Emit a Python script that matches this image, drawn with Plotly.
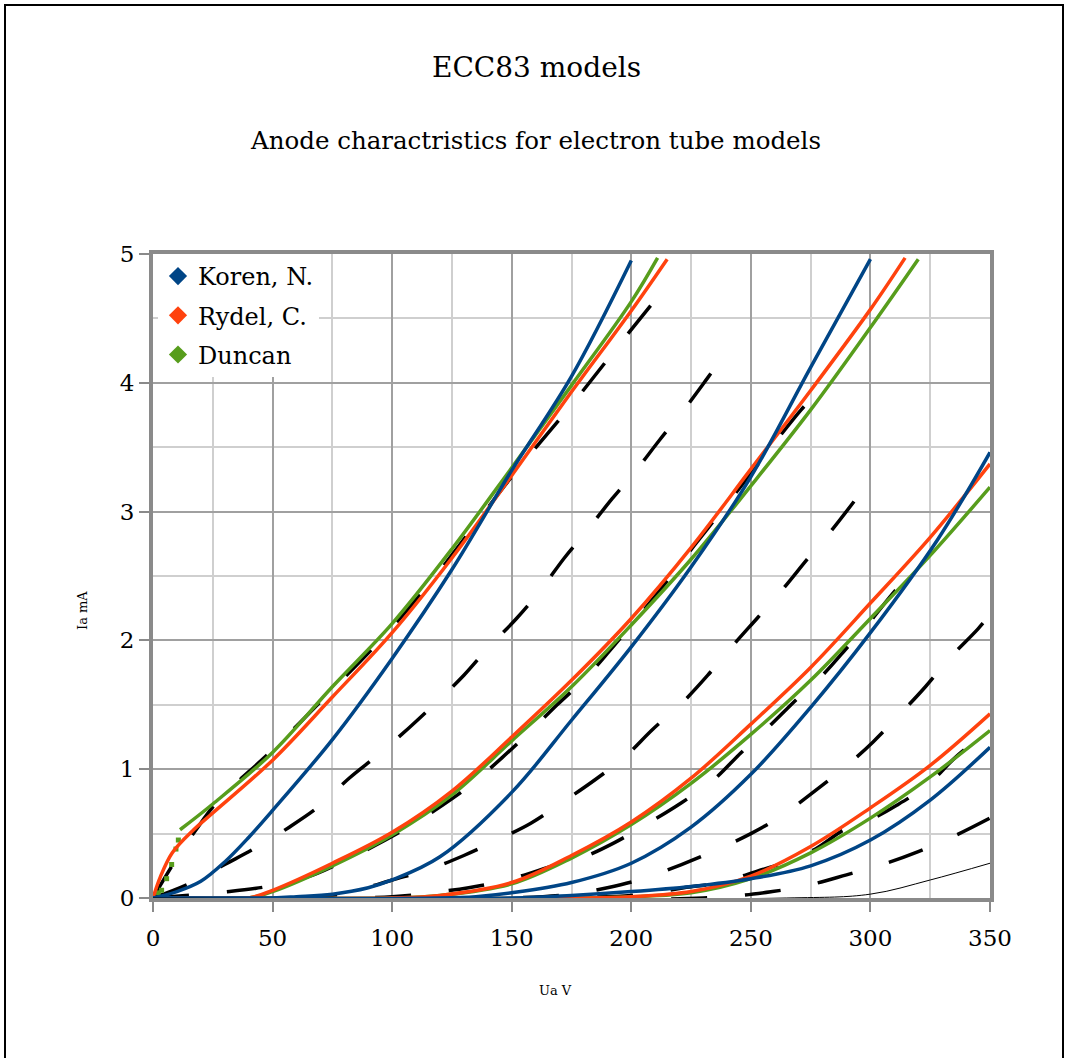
import plotly.graph_objects as go

# ---------------- data ----------------
# Koren, N. model (blue)
koren_g0_ua = [0, 10, 20, 30, 40, 50, 75, 100, 125, 150, 175, 200]
koren_g0_ia = [0, 0.05, 0.13, 0.28, 0.47, 0.68, 1.23, 1.86, 2.55, 3.32, 4.05, 4.95]
koren_g1_ua = [0, 50, 60, 75, 90, 100, 120, 150, 175, 200, 225, 250, 275, 300]
koren_g1_ia = [0, 0, 0.01, 0.03, 0.08, 0.14, 0.32, 0.82, 1.38, 1.95, 2.57, 3.27, 4.12, 4.96]
koren_g2_ua = [0, 120, 135, 150, 175, 200, 225, 250, 275, 300, 328, 350]
koren_g2_ia = [0, 0, 0.01, 0.04, 0.12, 0.27, 0.55, 0.96, 1.48, 2.06, 2.78, 3.46]
koren_g3_ua = [0, 150, 175, 200, 225, 250, 275, 300, 325, 350]
koren_g3_ia = [0, 0, 0.02, 0.05, 0.09, 0.15, 0.25, 0.45, 0.76, 1.17]

# Rydel, C. model (orange)
rydel_g0_ua = [0, 3, 8, 17, 25, 50, 75, 100, 125, 150, 175, 200, 215]
rydel_g0_ia = [0, 0.16, 0.35, 0.53, 0.66, 1.07, 1.56, 2.06, 2.64, 3.28, 3.93, 4.56, 4.96]
rydel_g1_ua = [0, 40, 50, 75, 100, 125, 150, 175, 200, 225, 250, 275, 300, 314.5]
rydel_g1_ia = [0, 0, 0.06, 0.27, 0.51, 0.83, 1.25, 1.69, 2.17, 2.72, 3.33, 3.94, 4.57, 4.97]
rydel_g2_ua = [0, 100, 120, 150, 175, 200, 225, 250, 275, 300, 325, 350]
rydel_g2_ia = [0, 0, 0.02, 0.12, 0.33, 0.59, 0.93, 1.35, 1.79, 2.29, 2.80, 3.37]
rydel_g3_ua = [0, 180, 200, 225, 250, 275, 300, 325, 350]
rydel_g3_ia = [0, 0, 0.01, 0.05, 0.17, 0.40, 0.70, 1.03, 1.43]

# Duncan model (green); the first points near the origin show as separate dots
duncan_g0_dots_ua = [0, 2.2, 3.6, 5.7, 7.8, 9.6, 10.6]
duncan_g0_dots_ia = [0, 0.04, 0.06, 0.15, 0.26, 0.38, 0.45]
duncan_g0_ua = [11.3, 25, 50, 75, 100, 125, 150, 175, 200, 211]
duncan_g0_ia = [0.53, 0.73, 1.13, 1.64, 2.13, 2.71, 3.34, 3.98, 4.63, 4.97]
duncan_g1_ua = [0, 40, 50, 75, 100, 125, 150, 175, 200, 225, 250, 275, 300, 320]
duncan_g1_ia = [0, 0, 0.05, 0.25, 0.49, 0.80, 1.22, 1.64, 2.12, 2.63, 3.20, 3.79, 4.43, 4.96]
duncan_g2_ua = [0, 100, 120, 150, 175, 200, 225, 250, 275, 300, 325, 350]
duncan_g2_ia = [0, 0, 0.02, 0.11, 0.31, 0.57, 0.89, 1.27, 1.69, 2.17, 2.66, 3.19]
duncan_g3_ua = [0, 180, 200, 225, 250, 275, 300, 325, 350]
duncan_g3_ia = [0, 0, 0.01, 0.04, 0.15, 0.35, 0.62, 0.94, 1.30]

# measured data (black dashed), Ug = 0 ... -3.5 V
meas_0_ua = [0, 8, 18, 27, 50, 73, 95, 116, 150, 176, 196, 216]
meas_0_ia = [0, 0.25, 0.53, 0.75, 1.15, 1.58, 2.0, 2.45, 3.27, 3.85, 4.32, 4.78]
meas_05_ua = [0, 15, 30, 43, 57, 70, 82, 94, 107, 118, 130, 140, 152, 162, 172, 180, 192, 202, 212, 222, 232, 241]
meas_05_ia = [0, 0.11, 0.26, 0.39, 0.55, 0.72, 0.93, 1.11, 1.32, 1.51, 1.73, 1.94, 2.17, 2.39, 2.64, 2.82, 3.1, 3.32, 3.56, 3.79, 4.04, 4.27]
meas_1_ua = [0, 32, 48, 64, 78, 103, 121, 133, 146, 157, 169, 181, 191, 200, 212, 221, 232, 241, 251, 261, 271, 276]
meas_1_ia = [0, 0.05, 0.09, 0.16, 0.27, 0.51, 0.72, 0.88, 1.09, 1.28, 1.50, 1.71, 1.92, 2.12, 2.39, 2.61, 2.87, 3.08, 3.32, 3.56, 3.79, 3.89]
meas_15_ua = [0, 70, 85, 100, 115, 130, 144, 158, 171, 185, 197, 209, 221, 232, 242, 253, 263, 274, 284, 294, 300]
meas_15_ia = [0, 0.01, 0.06, 0.14, 0.22, 0.33, 0.45, 0.58, 0.74, 0.92, 1.09, 1.31, 1.51, 1.73, 1.95, 2.18, 2.39, 2.64, 2.86, 3.1, 3.25]
meas_2_ua = [0, 100, 120, 132, 148, 169, 179, 193, 207, 221, 234, 246, 257, 269, 280, 291, 300, 312, 322]
meas_2_ia = [0, 0.01, 0.05, 0.08, 0.14, 0.26, 0.31, 0.43, 0.58, 0.74, 0.91, 1.13, 1.32, 1.54, 1.73, 1.96, 2.15, 2.42, 2.59]
meas_25_ua = [0, 150, 175, 190, 205, 221, 234, 250, 263, 276, 289, 301, 312, 323, 333, 345, 350]
meas_25_ia = [0, 0, 0.03, 0.08, 0.15, 0.26, 0.36, 0.5, 0.64, 0.82, 1.01, 1.21, 1.42, 1.64, 1.86, 2.09, 2.2]
meas_3_ua = [0, 200, 222, 237, 253, 265, 277, 289, 297, 311, 324, 336, 349]
meas_3_ia = [0, 0.02, 0.08, 0.12, 0.21, 0.28, 0.38, 0.53, 0.58, 0.72, 0.88, 1.10, 1.29]
meas_35_ua = [0, 230, 259, 274, 290, 305, 320, 335, 350]
meas_35_ia = [0, 0, 0.05, 0.10, 0.18, 0.26, 0.36, 0.48, 0.62]

# thin black curve (Ug = -4 V)
thin_ua = [0, 265, 300, 325, 350]
thin_ia = [0, 0, 0.03, 0.14, 0.27]

x_ticks = [0, 50, 100, 150, 200, 250, 300, 350]
y_ticks = [0, 1, 2, 3, 4, 5]

BLUE = "#004586"
ORANGE = "#ff420e"
GREEN = "#579d1c"
FONT = "DejaVu Serif"

fig = go.Figure()

measured = [(meas_0_ua, meas_0_ia), (meas_05_ua, meas_05_ia), (meas_1_ua, meas_1_ia),
            (meas_15_ua, meas_15_ia), (meas_2_ua, meas_2_ia), (meas_25_ua, meas_25_ia),
            (meas_3_ua, meas_3_ia), (meas_35_ua, meas_35_ia)]
for ua, ia in measured:
    fig.add_trace(go.Scatter(x=ua, y=ia, mode="lines", showlegend=False, hoverinfo="skip",
                             line=dict(color="black", width=3.5, dash="36px,38px", shape="spline", smoothing=1.0)))

def add_model(curves, color):
    for ua, ia in curves:
        fig.add_trace(go.Scatter(x=ua, y=ia, mode="lines", showlegend=False,
                                 line=dict(color=color, width=3.5, shape="spline", smoothing=1.0)))

fig.add_trace(go.Scatter(x=duncan_g0_dots_ua, y=duncan_g0_dots_ia, mode="markers", showlegend=False,
                         marker=dict(color=GREEN, size=5, symbol="square")))
add_model([(duncan_g0_ua, duncan_g0_ia), (duncan_g1_ua, duncan_g1_ia),
           (duncan_g2_ua, duncan_g2_ia), (duncan_g3_ua, duncan_g3_ia)], GREEN)
add_model([(rydel_g0_ua, rydel_g0_ia), (rydel_g1_ua, rydel_g1_ia),
           (rydel_g2_ua, rydel_g2_ia), (rydel_g3_ua, rydel_g3_ia)], ORANGE)
add_model([(koren_g0_ua, koren_g0_ia), (koren_g1_ua, koren_g1_ia),
           (koren_g2_ua, koren_g2_ia), (koren_g3_ua, koren_g3_ia)], BLUE)

fig.add_trace(go.Scatter(x=thin_ua, y=thin_ia, mode="lines", showlegend=False,
                         line=dict(color="black", width=1, shape="spline", smoothing=1.0)))

# legend entries
for name, color in [("Koren, N.", BLUE), ("Rydel, C.", ORANGE), ("Duncan", GREEN)]:
    fig.add_trace(go.Scatter(x=[None], y=[None], mode="markers", name=name, legendgroup=name,
                             marker=dict(symbol="diamond", size=14, color=color)))

W, H = 1065, 1058
L, T = 153, 254
R = W - 990
B = H - 898
pw, ph = W - L - R, H - T - B

def px(xp):  # page pixel -> paper x
    return (xp - L) / pw

def py(yp):  # page pixel -> paper y
    return (H - B - yp) / ph

fig.update_layout(
    width=W, height=H,
    margin=dict(l=L, r=R, t=T, b=B, autoexpand=False),
    paper_bgcolor="white", plot_bgcolor="white",
    font=dict(family=FONT, color="black"),
    showlegend=True,
    legend=dict(x=px(158), y=py(254), xanchor="left", yanchor="top",
                bgcolor="white", borderwidth=0, font=dict(family=FONT, size=24),
                tracegroupgap=5, itemwidth=30),
    xaxis=dict(range=[0, 350], tickvals=x_ticks, ticktext=[str(v) for v in x_ticks],
               showgrid=True, gridcolor="#a0a0a0", gridwidth=1.5,
               minor=dict(dtick=25, showgrid=True, gridcolor="#cfcfcf", gridwidth=1.5),
               showline=True, mirror=True, linecolor="#8a8a8a", linewidth=4,
               ticks="outside", ticklen=10, tickwidth=2, tickcolor="#8a8a8a",
               tickfont=dict(family=FONT, size=23), ticklabelstandoff=6, zeroline=False),
    yaxis=dict(range=[0, 5], tickvals=y_ticks, ticktext=[str(v) for v in y_ticks],
               showgrid=True, gridcolor="#a0a0a0", gridwidth=1.5,
               minor=dict(dtick=0.5, showgrid=True, gridcolor="#cfcfcf", gridwidth=1.5),
               showline=True, mirror=True, linecolor="#8a8a8a", linewidth=4,
               ticks="outside", ticklen=10, tickwidth=2, tickcolor="#8a8a8a",
               tickfont=dict(family=FONT, size=23), ticklabelstandoff=0, zeroline=False),
    annotations=[
        dict(text="ECC83 models", x=px(536), y=py(68), xref="paper", yref="paper",
             showarrow=False, font=dict(family=FONT, size=28), xanchor="center", yanchor="middle"),
        dict(text="Anode charactristics for electron tube models", x=px(535), y=py(141),
             xref="paper", yref="paper", showarrow=False, font=dict(family=FONT, size=24.5),
             xanchor="center", yanchor="middle"),
        dict(text="Ua V", x=px(555), y=py(990), xref="paper", yref="paper", showarrow=False,
             font=dict(family=FONT, size=13), xanchor="center", yanchor="middle"),
        dict(text="Ia mA", x=px(82), y=py(611), xref="paper", yref="paper", showarrow=False,
             font=dict(family=FONT, size=13), textangle=-90, xanchor="center", yanchor="middle"),
    ],
    shapes=[dict(type="rect", xref="paper", yref="paper", x0=px(5), x1=px(1063), y0=py(1075), y1=py(5),
                 line=dict(color="black", width=2), fillcolor="rgba(0,0,0,0)", layer="above")],
)

# place the chart at the page origin (remove the browser's default body margin)
fig.write_html("out.html", config={"displayModeBar": False},
               post_script="document.body.style.margin='0px';")
